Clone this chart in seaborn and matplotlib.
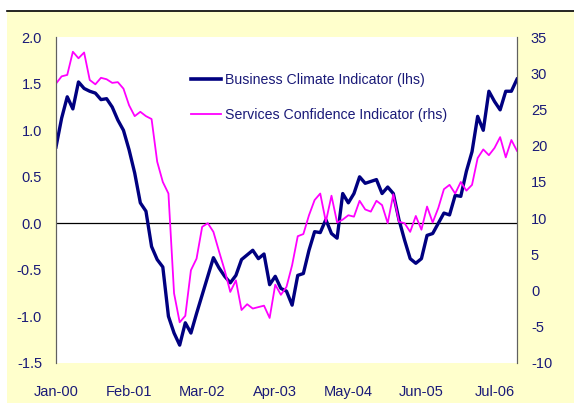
import numpy as np
import pandas as pd
import matplotlib
matplotlib.use("Agg")
import matplotlib.pyplot as plt
import seaborn as sns
from matplotlib.patches import Rectangle
from matplotlib.lines import Line2D

# ---- data (monthly, Jan-2000 .. Nov-2006) ----
business = [0.82, 1.13, 1.36, 1.23, 1.52, 1.45, 1.42, 1.40, 1.33, 1.34,
            1.25, 1.11, 1.00, 0.79, 0.54, 0.22, 0.13, -0.25, -0.39, -0.47,
            -1.00, -1.18, -1.31, -1.07, -1.18, -0.97, -0.77, -0.57, -0.37, -0.48,
            -0.57, -0.64, -0.56, -0.39, -0.34, -0.29, -0.38, -0.33, -0.66, -0.57,
            -0.70, -0.73, -0.88, -0.56, -0.54, -0.29, -0.09, -0.10, 0.04, -0.11,
            -0.16, 0.32, 0.22, 0.32, 0.50, 0.43, 0.45, 0.47, 0.32, 0.39,
            0.32, 0.04, -0.18, -0.38, -0.43, -0.38, -0.13, -0.11, 0.00, 0.11,
            0.09, 0.30, 0.29, 0.56, 0.77, 1.15, 1.00, 1.42, 1.31, 1.22,
            1.42, 1.42, 1.55]
services = [28.6, 29.6, 29.8, 33.0, 32.1, 32.9, 29.1, 28.5, 29.4, 29.2,
            28.7, 28.8, 27.9, 25.6, 24.1, 24.7, 24.1, 23.7, 17.8, 15.0,
            13.4, -0.4, -4.4, -3.5, 2.8, 4.4, 8.8, 9.3, 8.1, 5.4,
            2.8, -0.2, 1.4, -2.7, -1.9, -2.5, -2.3, -2.1, -3.8, 0.8,
            -0.6, 0.5, 3.5, 7.5, 7.8, 10.4, 12.5, 13.4, 9.5, 13.1,
            9.4, 9.8, 10.4, 10.2, 12.4, 11.2, 10.9, 12.4, 11.8, 9.3,
            13.3, 9.5, 9.3, 8.1, 10.3, 8.4, 11.6, 9.4, 11.4, 14.0,
            14.6, 13.4, 15.0, 13.8, 14.6, 18.3, 19.5, 18.7, 19.7, 21.2,
            18.4, 20.8, 19.3]
tick_labels = ["Jan-00", "Feb-01", "Mar-02", "Apr-03", "May-04", "Jun-05", "Jul-06"]
left_ticks = [-1.5, -1.0, -0.5, 0.0, 0.5, 1.0, 1.5, 2.0]
right_ticks = [-10, -5, 0, 5, 10, 15, 20, 25, 30, 35]
name_b = "Business Climate Indicator (lhs)"
name_s = "Services Confidence Indicator (rhs)"

df = pd.DataFrame({"idx": np.arange(len(business)), "b": business, "s": services})

W, H = 574, 403
plt.rcParams["font.family"] = ["Liberation Sans", "DejaVu Sans"]
plt.rcParams["axes.unicode_minus"] = False
fig = plt.figure(figsize=(W / 100, H / 100), dpi=100)
fig.patch.set_facecolor("white")
fig.add_artist(Rectangle((7 / W, 0), (W - 7) / W, (H - 11) / H, transform=fig.transFigure,
                         facecolor="#FFFFCC", edgecolor="none", zorder=-10))
fig.add_artist(Line2D([7 / W, 1], [(H - 11) / H] * 2, transform=fig.transFigure,
                      color="black", lw=1.2))

top, bot, lft, rgt = 37.3, 362.8, 56, 517
ax = fig.add_axes([lft / W, (H - bot) / H, (rgt - lft) / W, (bot - top) / H])
ax.set_facecolor("white")
sns.lineplot(data=df, x="idx", y="b", ax=ax, color="#000080", lw=2.4, label=name_b, legend=False)
ax.axhline(0, color="black", lw=0.9, zorder=1)
ax.set_ylim(-1.5, 2.0)
ax.set_xlim(0, len(business) - 1)
ax.set_yticks(left_ticks)
ax.set_yticklabels([f"{v:.1f}" for v in left_ticks])
ax.set_xticks(np.arange(0, 13 * len(tick_labels), 13))
ax.set_xticklabels(tick_labels)
ax.set_xlabel("")
ax.set_ylabel("")

ax2 = ax.twinx()
sns.lineplot(data=df, x="idx", y="s", ax=ax2, color="#FF00FF", lw=1.3, label=name_s, legend=False)
ax2.set_ylim(-10, 35)
ax2.set_yticks(right_ticks)
ax2.set_yticklabels([str(v) for v in right_ticks])
ax2.set_ylabel("")

txtc = "#1A1A78"
for a in (ax, ax2):
    a.spines["top"].set_visible(False)
    a.spines["bottom"].set_visible(False)
    a.spines["left"].set_color("#606060")
    a.spines["right"].set_color("#606060")
    a.tick_params(length=0, labelsize=10.5, colors=txtc)
ax.tick_params(axis="y", pad=10)
ax.tick_params(axis="x", pad=16)
ax2.tick_params(axis="y", pad=10)

handles = [Line2D([], [], color="#000080", lw=2.6), Line2D([], [], color="#FF00FF", lw=1.3)]
leg = fig.legend(handles, [name_b, name_s], loc="upper left",
                 bbox_to_anchor=(191 / W, 1 - 73 / H), frameon=False, borderpad=0,
                 borderaxespad=0, fontsize=10.2, handlelength=2.1, handletextpad=0.3,
                 labelspacing=1.5)
for t in leg.get_texts():
    t.set_color(txtc)

fig.savefig("out.png", dpi=100)
